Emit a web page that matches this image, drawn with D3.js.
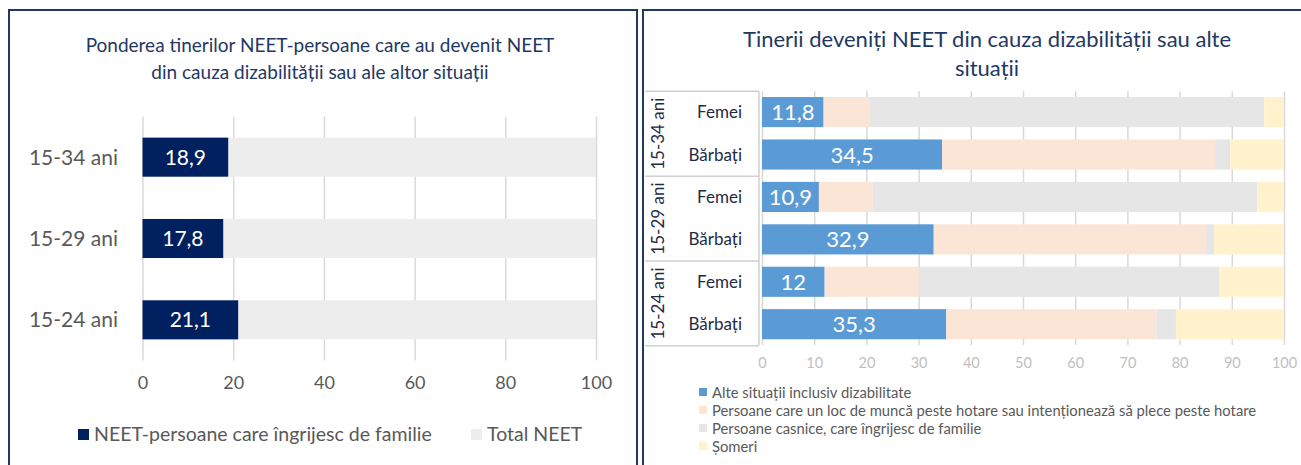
<!DOCTYPE html>
<meta charset="utf-8">
<script src="https://d3js.org/d3.v7.min.js"></script>
<style>
  body { margin: 0; background: #fff; }
  text { font-family: Lato, "Open Sans", sans-serif; }
</style>
<body>
<div id="chart"></div>
<script>
// left chart data
var ageCats = ["15-34 ani", "15-29 ani", "15-24 ani"];
var careValues = [18.9, 17.8, 21.1];
var totalValues = [100, 100, 100];
var leftTicks = [0, 20, 40, 60, 80, 100];

// right chart data (rows: Femei / Bărbați for each age group)
var groups = ["15-34 ani", "15-29 ani", "15-24 ani"];
var sexes = ["Femei", "Bărbați"];
var alte = [11.8, 34.5, 10.9, 32.9, 12, 35.3];
var peste = [8.9, 52.3, 10.3, 52.0, 18.2, 40.3];
var casnice = [75.5, 2.9, 73.7, 1.7, 57.4, 3.7];
var someri = [3.8, 10.3, 5.1, 13.4, 12.4, 20.7];
var rightTicks = [0, 10, 20, 30, 40, 50, 60, 70, 80, 90, 100];
var seriesNames = ["Alte situații inclusiv dizabilitate",
  "Persoane care un loc de muncă peste hotare sau intenționează să plece peste hotare",
  "Persoane casnice, care îngrijesc de familie",
  "Șomeri"];
var seriesColors = ["#5b9bd5", "#fbe5d6", "#e7e6e6", "#fff2cc"];

var width = 1301, height = 465
var navy = "#1f3864"
var svg = d3.select("#chart").append("svg")
  .attr("width", width).attr("height", height)

// panel borders
svg.append("rect").attr("x", 9).attr("y", 10).attr("width", 628).attr("height", 470)
  .attr("fill", "none").attr("stroke", navy).attr("stroke-width", 2)
svg.append("rect").attr("x", 643).attr("y", 10).attr("width", 670).attr("height", 470)
  .attr("fill", "none").attr("stroke", navy).attr("stroke-width", 2)

// ---------- left chart ----------
var x1 = d3.scaleLinear().domain([0, 100]).range([142.5, 596])
var y1 = d3.scaleBand().domain(ageCats).range([116.5, 360.5])
  .paddingInner(0.52).paddingOuter(0.26)

svg.append("text").attr("x", 320).attr("y", 52).attr("text-anchor", "middle")
  .attr("fill", navy).style("font-size", "19px")
  .text("Ponderea tinerilor NEET-persoane care au devenit NEET")
svg.append("text").attr("x", 320).attr("y", 79).attr("text-anchor", "middle")
  .attr("fill", navy).style("font-size", "19px")
  .text("din cauza dizabilității sau ale altor situații")

var gx1 = svg.append("g").attr("transform", "translate(0,360.5)")
  .call(d3.axisBottom(x1).tickValues(leftTicks).tickSize(-244).tickPadding(16))
gx1.select(".domain").remove()
gx1.selectAll("line").attr("stroke", "#d9d9d9").attr("stroke-width", 1.5)
gx1.selectAll("text").attr("fill", "#595959").style("font-size", "18px")
  .style("font-family", "Lato, sans-serif")

svg.selectAll(".tot").data(totalValues).enter().append("rect")
  .attr("x", x1(0)).attr("y", function(d, i) { return y1(ageCats[i]) })
  .attr("width", function(d) { return x1(d) - x1(0) })
  .attr("height", y1.bandwidth()).attr("fill", "#ededed")
svg.selectAll(".care").data(careValues).enter().append("rect")
  .attr("x", x1(0)).attr("y", function(d, i) { return y1(ageCats[i]) })
  .attr("width", function(d) { return x1(d) - x1(0) })
  .attr("height", y1.bandwidth()).attr("fill", "#002060")
svg.selectAll(".carelbl").data(careValues).enter().append("text")
  .attr("x", function(d) { return (x1(0) + x1(d)) / 2 })
  .attr("y", function(d, i) { return y1(ageCats[i]) + y1.bandwidth() / 2 + 7.5 })
  .attr("text-anchor", "middle").attr("fill", "#fff").style("font-size", "21px")
  .text(function(d) { return String(d).replace(".", ",") })

svg.selectAll(".agelbl").data(ageCats).enter().append("text")
  .attr("x", 118).attr("y", function(d) { return y1(d) + y1.bandwidth() / 2 + 7.5 })
  .attr("text-anchor", "end").attr("fill", "#595959").style("font-size", "21px")
  .text(function(d) { return d })

// legend left
var leg1 = [["NEET-persoane care îngrijesc de familie", "#002060", 78], ["Total NEET", "#ededed", 471]]
leg1.forEach(function(l) {
  svg.append("rect").attr("x", l[2]).attr("y", 429).attr("width", 11).attr("height", 11).attr("fill", l[1])
  svg.append("text").attr("x", l[2] + 16).attr("y", 441).attr("fill", "#595959")
    .style("font-size", "19.5px").text(l[0])
})

// ---------- right chart ----------
var rows = d3.range(6)
var x2 = d3.scaleLinear().domain([0, 100]).range([762, 1284])
var y2 = d3.scaleBand().domain(rows).range([91.3, 345]).paddingInner(0.29).paddingOuter(0.135)

svg.append("text").attr("x", 987).attr("y", 47).attr("text-anchor", "middle")
  .attr("fill", navy).style("font-size", "22px")
  .text("Tinerii deveniți NEET din cauza dizabilității sau alte")
svg.append("text").attr("x", 987).attr("y", 76).attr("text-anchor", "middle")
  .attr("fill", navy).style("font-size", "22px").text("situații")

var gx2 = svg.append("g").attr("transform", "translate(0,345)")
  .call(d3.axisBottom(x2).tickValues(rightTicks).tickSize(-253.7).tickPadding(13))
gx2.select(".domain").remove()
gx2.selectAll("line").attr("stroke", "#d9d9d9").attr("stroke-width", 1.5)
gx2.selectAll("text").attr("fill", "#bfbfbf").style("font-size", "14.5px")
  .style("font-family", "Lato, sans-serif")

var series = [alte, peste, casnice, someri]
var stacked = rows.map(function(r) {
  var acc = 0
  return series.map(function(s, k) { var a = acc; acc += s[r]; return [a, acc, k] })
})
var rowG = svg.selectAll(".row").data(stacked).enter().append("g")
  .attr("transform", function(d, i) { return "translate(0," + y2(i) + ")" })
rowG.selectAll("rect").data(function(d) { return d }).enter().append("rect")
  .attr("x", function(d) { return x2(d[0]) })
  .attr("width", function(d) { return x2(d[1]) - x2(d[0]) })
  .attr("height", y2.bandwidth())
  .attr("fill", function(d) { return seriesColors[d[2]] })
svg.selectAll(".altelbl").data(alte).enter().append("text")
  .attr("x", function(d) { return (x2(0) + x2(d)) / 2 })
  .attr("y", function(d, i) { return y2(i) + y2.bandwidth() / 2 + 8 })
  .attr("text-anchor", "middle").attr("fill", "#fff").style("font-size", "22px")
  .text(function(d) { return String(d).replace(".", ",") })

// multi-level category axis
var step = y2.step(), top0 = 91.3
var catG = svg.append("g")
catG.append("rect").attr("x", 645).attr("y", top0).attr("width", 114).attr("height", 345 - top0)
  .attr("fill", "#fff")
groups.forEach(function(g, k) {
  var gy = top0 + k * 2 * step
  catG.append("text")
    .attr("transform", "translate(664," + (gy + step) + ") rotate(-90)")
    .attr("text-anchor", "middle").attr("fill", "#1f2a44").style("font-size", "17px").text(g)
  sexes.forEach(function(s, j) {
    var r = k * 2 + j
    catG.append("text").attr("x", 742).attr("y", y2(r) + y2.bandwidth() / 2 + 6)
      .attr("text-anchor", "end").attr("fill", "#1f2a44").style("font-size", "17px").text(s)
  })
})
d3.range(4).forEach(function(k) {
  var gy = top0 + k * 2 * step
  catG.append("line").attr("x1", 645).attr("x2", 759).attr("y1", gy).attr("y2", gy)
    .attr("stroke", "#d0d0d0").attr("stroke-width", 1.5)
})
catG.append("line").attr("x1", 759).attr("x2", 759).attr("y1", top0).attr("y2", 345)
  .attr("stroke", "#d0d0d0").attr("stroke-width", 1.5)

// legend right
seriesNames.forEach(function(n, i) {
  svg.append("rect").attr("x", 699).attr("y", 388 + i * 18).attr("width", 8).attr("height", 8)
    .attr("fill", seriesColors[i])
  svg.append("text").attr("x", 712).attr("y", 397.5 + i * 18).attr("fill", "#595959")
    .style("font-size", "14.8px").text(n)
})
</script>
</body>
